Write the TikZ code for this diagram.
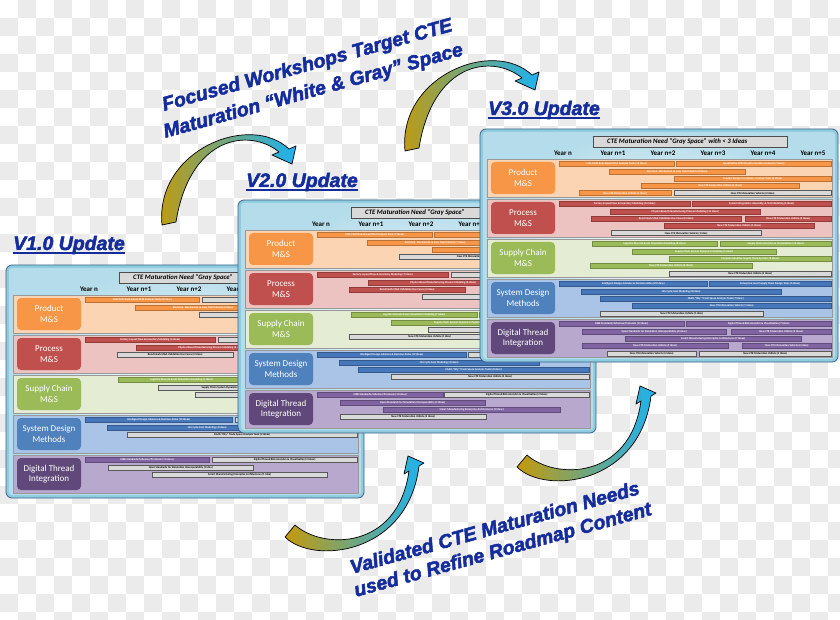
\documentclass[tikz,border=0pt]{standalone}
\usepackage{fontspec}
\setmainfont{Carlito}
\newfontfamily\headfont[BoldItalicFeatures={FakeBold=2.5}]{Liberation Sans}
\usepackage{tikz}

% colours
\definecolor{navytext}{HTML}{142C9C}
\definecolor{checkgray}{HTML}{EBEBEB}
\definecolor{frameblue}{HTML}{8ECBDF}
\definecolor{frameline}{HTML}{3D6089}
\definecolor{innerblue}{HTML}{B4DCEA}
\definecolor{prodband}{HTML}{FBD4B4}
\definecolor{procband}{HTML}{EDC3C2}
\definecolor{suppband}{HTML}{E4EDD3}
\definecolor{sysband}{HTML}{A9C4E6}
\definecolor{digband}{HTML}{B9A8CE}
\definecolor{prodlbl}{HTML}{F79646}
\definecolor{proclbl}{HTML}{C0504D}
\definecolor{supplbl}{HTML}{9BBB59}
\definecolor{syslbl}{HTML}{4F81BD}
\definecolor{diglbl}{HTML}{60497A}
\definecolor{barorange}{HTML}{F79646}
\definecolor{barred}{HTML}{C0504D}
\definecolor{bargreen}{HTML}{9BBB59}
\definecolor{barblue}{HTML}{4677BA}
\definecolor{barpurple}{HTML}{8064A2}
\definecolor{bargray}{HTML}{D9D9D9}
\definecolor{arrgold}{HTML}{C49A0C}
\definecolor{arrteal}{HTML}{45B5DA}
\definecolor{arrcyan}{HTML}{1CB2F2}

% one roadmap bar: style, from x, to x, row, slot, text
\newcommand{\rbar}[6]{%
  \node[bar,#1,minimum width={(#3-#2)*1pt},anchor=west] at (#2,{35+40*#4+7.3*#5}) {#6};}

% frame, title, years and the five rows of one roadmap (title, last year shown)
\newcommand{\rmpanel}[2]{%
  \draw[panelframe] (0,0) rectangle (358,233);
  \shade[panelinner] (3,3) rectangle (355,230);
  \node[titlebox] (title) at (210,12.5) {};
  \node[titletext] (titletxt) at (127,12.5) {#1};
  \foreach \k/\yr in {0/n,1/n+1,2/n+2,3/n+3,4/n+4,5/n+5}{
    \ifnum\k>#2\relax\else\node[yearlbl] (year\k) at ({83+50*\k},24) {Year \yr};\fi}
  \foreach \r/\bandc/\lblc/\txt in {0/prodband/prodlbl/{Product\\M\&S},
      1/procband/proclbl/{Process\\M\&S}, 2/suppband/supplbl/{Supply Chain\\M\&S},
      3/sysband/syslbl/{System Design\\Methods}, 4/digband/diglbl/{Digital Thread\\Integration}}{
    \draw[band, fill=\bandc] (7,{30+40*\r}) rectangle (352,{68+40*\r});
    \node[rowlbl, fill=\lblc] (lbl\r) at (43,{49+40*\r}) {\txt};
  }
}

\begin{document}
\begin{tikzpicture}[x=1pt,y=-1pt,
    panelframe/.style={rounded corners=6pt, fill=frameblue, draw=frameline, line width=0.8pt},
    panelinner/.style={rounded corners=3pt, inner color=white, outer color=innerblue},
    titlebox/.style={draw=black!70, fill=bargray, minimum width=194pt, minimum height=11pt, inner sep=0pt},
    titletext/.style={anchor=west, inner sep=0pt, font=\bfseries\itshape\fontsize{6.8}{8}\selectfont},
    yearlbl/.style={inner sep=0pt, font=\bfseries\fontsize{7}{8}\selectfont},
    band/.style={draw=black!40, line width=0.6pt},
    rowlbl/.style={rounded corners=4pt, minimum width=64pt, minimum height=32pt, inner sep=0pt,
      text=white, align=center, font=\fontsize{9}{10.5}\selectfont},
    bar/.style={line width=0.4pt, minimum height=5pt, inner sep=0pt,
      font=\bfseries\fontsize{2.8}{3}\selectfont},
    ornbar/.style={fill=barorange, draw=barorange!75!black, text=white},
    redbar/.style={fill=barred, draw=barred!75!black, text=white},
    grnbar/.style={fill=bargreen, draw=bargreen!75!black, text=white},
    blubar/.style={fill=barblue, draw=barblue!75!black, text=white},
    purbar/.style={fill=barpurple, draw=barpurple!75!black, text=white},
    grybar/.style={fill=bargray, draw=black!65, text=black},
    vhead/.style={inner sep=0pt, text=navytext, font=\headfont\bfseries\itshape\fontsize{19.5}{22}\selectfont},
    slant/.style={vhead, rotate=15.5, anchor=west, align=left},
    arrowbody/.style={draw=black, line width=0.7pt, line join=round,
      left color=arrgold, middle color=arrteal, right color=arrcyan}]
\useasboundingbox (0,0) rectangle (840,620);

% transparency checks
\foreach \j in {0,...,34}
  \foreach \i in {0,...,23}
    \fill[checkgray] ({(2*\i+1-mod(\j,2))*18},{\j*18}) rectangle +(18,18);

% V1.0
\begin{scope}[shift={(6,265)}, name prefix=v1-]
  \rmpanel{CTE Maturation Need “Gray Space”}{3}
  \rbar{ornbar}{79}{193}{0}{0}{CAD/CAM Rule-Based DFM Analysis Tools (8 Ideas)}
  \rbar{grybar}{196}{351}{0}{0}{}
  \rbar{ornbar}{129}{265}{0}{1}{Electrical, Mechanical, \& Assy Yield Models (6 Ideas)}
  \rbar{grybar}{193}{351}{0}{2}{}
  \rbar{redbar}{79}{209}{1}{0}{Factory Layout Flow \& Inventory Modeling (6 Ideas)}
  \rbar{grybar}{212}{351}{1}{0}{}
  \rbar{redbar}{130}{280}{1}{1}{Physics-Based Manufacturing Process Modeling (6 Ideas)}
  \rbar{grybar}{111}{227}{1}{2}{Benchmark M\&S Validation Use Cases (2 Ideas)}
  \rbar{grnbar}{112}{239}{2}{0}{Logistics Discrete Event Simulation Modeling (5 Ideas)}
  \rbar{grybar}{152}{297}{2}{1}{Supply Chain System Dynamics Modeling (2 Ideas)}
  \rbar{grybar}{189}{351}{2}{2}{}
  \rbar{blubar}{79}{226}{3}{0}{Intelligent Design Advisors \& Decision Aides (10 Ideas)}
  \rbar{grybar}{229}{351}{3}{0}{}
  \rbar{blubar}{101}{301}{3}{1}{Life Cycle Cost Modeling (4 Ideas)}
  \rbar{grybar}{121}{351}{3}{2}{Multi-“Ility” Trade Space Analysis Tools (2 Ideas)}
  \rbar{purbar}{79}{203}{4}{0}{MBE Standards/Schemas/Protocols (11 Ideas)}
  \rbar{grybar}{206}{351}{4}{0}{Digital Thread Risk Analytics \& Visualization (2 Ideas)}
  \rbar{grybar}{102}{247}{4}{1}{Open Standards for Simulation Interoperability (1 Idea)}
  \rbar{grybar}{146}{321}{4}{2}{Smart Manufacturing Enterprise Architectures (1 Idea)}
\end{scope}

% V2.0
\begin{scope}[shift={(238,200)}, name prefix=v2-]
  \rmpanel{CTE Maturation Need “Gray Space”}{3}
  \rbar{ornbar}{79}{194}{0}{0}{CAD/CAM Rule-Based DFM Analysis Tools (9 Ideas)}
  \rbar{ornbar}{196}{351}{0}{0}{}
  \rbar{ornbar}{129}{265}{0}{1}{Electrical, Mechanical, \& Assy Yield Models (7 Ideas)}
  \rbar{ornbar}{194}{351}{0}{2}{}
  \rbar{grybar}{161}{319}{0}{3}{New CTE Maturation Vehicle (1 Idea)}
  \rbar{redbar}{79}{210}{1}{0}{Factory Layout Flow \& Inventory Modeling (7 Ideas)}
  \rbar{grybar}{213}{351}{1}{0}{}
  \rbar{redbar}{130}{280}{1}{1}{Physics-Based Manufacturing Process Modeling (8 Ideas)}
  \rbar{redbar}{111}{227}{1}{2}{Benchmark M\&S Validation Use Cases (4 Ideas)}
  \rbar{grybar}{184}{334}{1}{3}{}
  \rbar{grnbar}{113}{239}{2}{0}{Logistics Discrete Event Simulation Modeling (7 Ideas)}
  \rbar{grnbar}{241}{351}{2}{0}{}
  \rbar{grnbar}{153}{297}{2}{1}{Supply Chain System Dynamics Modeling (3 Ideas)}
  \rbar{grybar}{190}{351}{2}{2}{}
  \rbar{grybar}{111}{272}{2}{3}{New CTE Maturation Vehicle (1 Idea)}
  \rbar{blubar}{79}{228}{3}{0}{Intelligent Design Advisors \& Decision Aides (19 Ideas)}
  \rbar{grybar}{230}{351}{3}{0}{}
  \rbar{blubar}{101}{301}{3}{1}{Life Cycle Cost Modeling (6 Ideas)}
  \rbar{blubar}{120}{351}{3}{2}{Multi-“Ility” Trade Space Analysis Tools (6 Ideas)}
  \rbar{grybar}{153}{351}{3}{3}{New CTE Maturation Vehicle (2 Ideas)}
  \rbar{purbar}{79}{205}{4}{0}{MBE Standards/Schemas/Protocols (11 Ideas)}
  \rbar{grybar}{206}{351}{4}{0}{Digital Thread Risk Analytics \& Visualization (2 Ideas)}
  \rbar{purbar}{102}{247}{4}{1}{Open Standards for Simulation Interoperability (4 Ideas)}
  \rbar{purbar}{145}{322}{4}{2}{Smart Manufacturing Enterprise Architectures (5 Ideas)}
  \rbar{grybar}{102}{248}{4}{3}{New CTE Maturation Vehicle (2 Ideas)}
\end{scope}

% V3.0
\begin{scope}[shift={(480,129)}, name prefix=v3-]
  \rmpanel{CTE Maturation Need “Gray Space” with < 3 Ideas}{5}
  \rbar{ornbar}{79}{194}{0}{0}{CAD/CAM Rule-Based DFM Analysis Tools (12 Ideas)}
  \rbar{ornbar}{196}{351}{0}{0}{Quantitative DFM Penalty Function Analysis (7 Ideas)}
  \rbar{ornbar}{129}{265}{0}{1}{Electrical, Mechanical, \& Assy Yield Models (8 Ideas)}
  \rbar{ornbar}{194}{351}{0}{2}{Product Design Complexity Analysis Tools (6 Ideas)}
  \rbar{ornbar}{161}{319}{0}{3}{New CTE Maturation Vehicle (6 Ideas)}
  \rbar{ornbar}{99}{191}{0}{4}{New CTE Maturation Vehicle (6 Ideas)}
  \rbar{grybar}{194}{351}{0}{4}{New CTE Maturation Vehicle (2 Ideas)}
  \rbar{redbar}{79}{210}{1}{0}{Factory Layout Flow \& Inventory Modeling (12 Ideas)}
  \rbar{redbar}{212}{351}{1}{0}{System Integration, Assembly, \& Test Modeling (6 Ideas)}
  \rbar{redbar}{130}{280}{1}{1}{Physics-Based Manufacturing Process Modeling (12 Ideas)}
  \rbar{redbar}{111}{261}{1}{2}{Benchmark M\&S Validation Use Cases (6 Ideas)}
  \rbar{redbar}{265}{351}{1}{2}{New CTE Maturation Vehicle (6 Ideas)}
  \rbar{redbar}{184}{334}{1}{3}{New CTE Maturation Vehicle (4 Ideas)}
  \rbar{grybar}{131}{281}{1}{4}{New CTE Maturation Vehicle (1 Idea)}
  \rbar{grnbar}{112}{237}{2}{0}{Logistics Discrete Event Simulation Modeling (8 Ideas)}
  \rbar{grnbar}{240}{351}{2}{0}{Supply Chain Analytics \& Visualization (15 Ideas)}
  \rbar{grnbar}{152}{296}{2}{1}{Supply Chain System Dynamics Modeling (4 Ideas)}
  \rbar{grnbar}{189}{351}{2}{2}{Complex Adaptive Supply Chain Systems (5 Ideas)}
  \rbar{grnbar}{110}{272}{2}{3}{New CTE Maturation Vehicle (6 Ideas)}
  \rbar{grybar}{189}{351}{2}{4}{New CTE Maturation Vehicle (2 Ideas)}
  \rbar{blubar}{79}{227}{3}{0}{Intelligent Design Advisors \& Decision Aides (20 Ideas)}
  \rbar{blubar}{229}{351}{3}{0}{Enterprise Level Supply Chain Design Tools (6 Ideas)}
  \rbar{blubar}{101}{301}{3}{1}{Life Cycle Cost Modeling (8 Ideas)}
  \rbar{blubar}{120}{351}{3}{2}{Multi-“Ility” Trade Space Analysis Tools (7 Ideas)}
  \rbar{blubar}{152}{351}{3}{3}{New CTE Maturation Vehicle (7 Ideas)}
  \rbar{grybar}{120}{283}{3}{4}{New CTE Maturation Vehicle (1 Idea)}
  \rbar{purbar}{79}{204}{4}{0}{MBE Standards/Schemas/Protocols (13 Ideas)}
  \rbar{purbar}{206}{351}{4}{0}{Digital Thread Risk Analytics \& Visualization (7 Ideas)}
  \rbar{purbar}{102}{246}{4}{1}{Open Standards for Simulation Interoperability (6 Ideas)}
  \rbar{purbar}{251}{351}{4}{1}{New CTE Maturation Vehicle (4 Ideas)}
  \rbar{purbar}{145}{321}{4}{2}{Smart Manufacturing Enterprise Architectures (7 Ideas)}
  \rbar{purbar}{102}{248}{4}{3}{New CTE Maturation Vehicle (5 Ideas)}
  \rbar{purbar}{262}{351}{4}{3}{New CTE Maturation Vehicle (6 Ideas)}
  \rbar{grybar}{127}{216}{4}{4}{New CTE Maturation Vehicle (2 Ideas)}
  \rbar{grybar}{219}{351}{4}{4}{New CTE Maturation Vehicle (2 Ideas)}
\end{scope}

% version headings
\node[vhead, anchor=base west] (v1head) at (13,250) {V1.0 Update};
\node[vhead, anchor=base west] (v2head) at (246,187) {V2.0 Update};
\node[vhead, anchor=base west] (v3head) at (488,115) {V3.0 Update};
\foreach \h in {v1head,v2head,v3head}
  \draw[navytext, line width=1.5pt] ([yshift=-3pt]\h.base west) -- ([yshift=-3pt]\h.base east);

% slanted captions
\node[slant, font=\headfont\bfseries\itshape\fontsize{19.5}{26.3}\selectfont] (focus) at (160.4,120.4)
  {\hspace*{6pt}Focused Workshops Target CTE\\Maturation “White \& Gray” Space};
\node[slant, font=\headfont\bfseries\itshape\fontsize{19.5}{23.2}\selectfont] (valid) at (351.5,580.9)
  {\hspace*{2.3pt}Validated CTE Maturation Needs\\used to Refine Roadmap Content};

% curved arrows, top pair
\shadedraw[arrowbody] (162,225) .. controls (155,150) and (250,112) .. (289,149) -- (296,146)
  -- (292,164) -- (272,155) -- (279,152) .. controls (250,128) and (190,135) .. (176,222) -- cycle;
\begin{scope}[shift={(243,-74)}]
\shadedraw[arrowbody] (162,225) .. controls (155,150) and (250,112) .. (289,149) -- (296,146)
  -- (292,164) -- (272,155) -- (279,152) .. controls (250,128) and (190,135) .. (176,222) -- cycle;
\end{scope}

% curved arrows, bottom pair
\shadedraw[arrowbody] (517,467) .. controls (545,495) and (640,485) .. (651,396) -- (656,393)
  -- (640,386) -- (636,404) -- (641,401) .. controls (630,480) and (555,480) .. (527,455) -- cycle;
\begin{scope}[shift={(-232,70)}]
\shadedraw[arrowbody] (517,467) .. controls (545,495) and (640,485) .. (651,396) -- (656,393)
  -- (640,386) -- (636,404) -- (641,401) .. controls (630,480) and (555,480) .. (527,455) -- cycle;
\end{scope}
\end{tikzpicture}
\end{document}
